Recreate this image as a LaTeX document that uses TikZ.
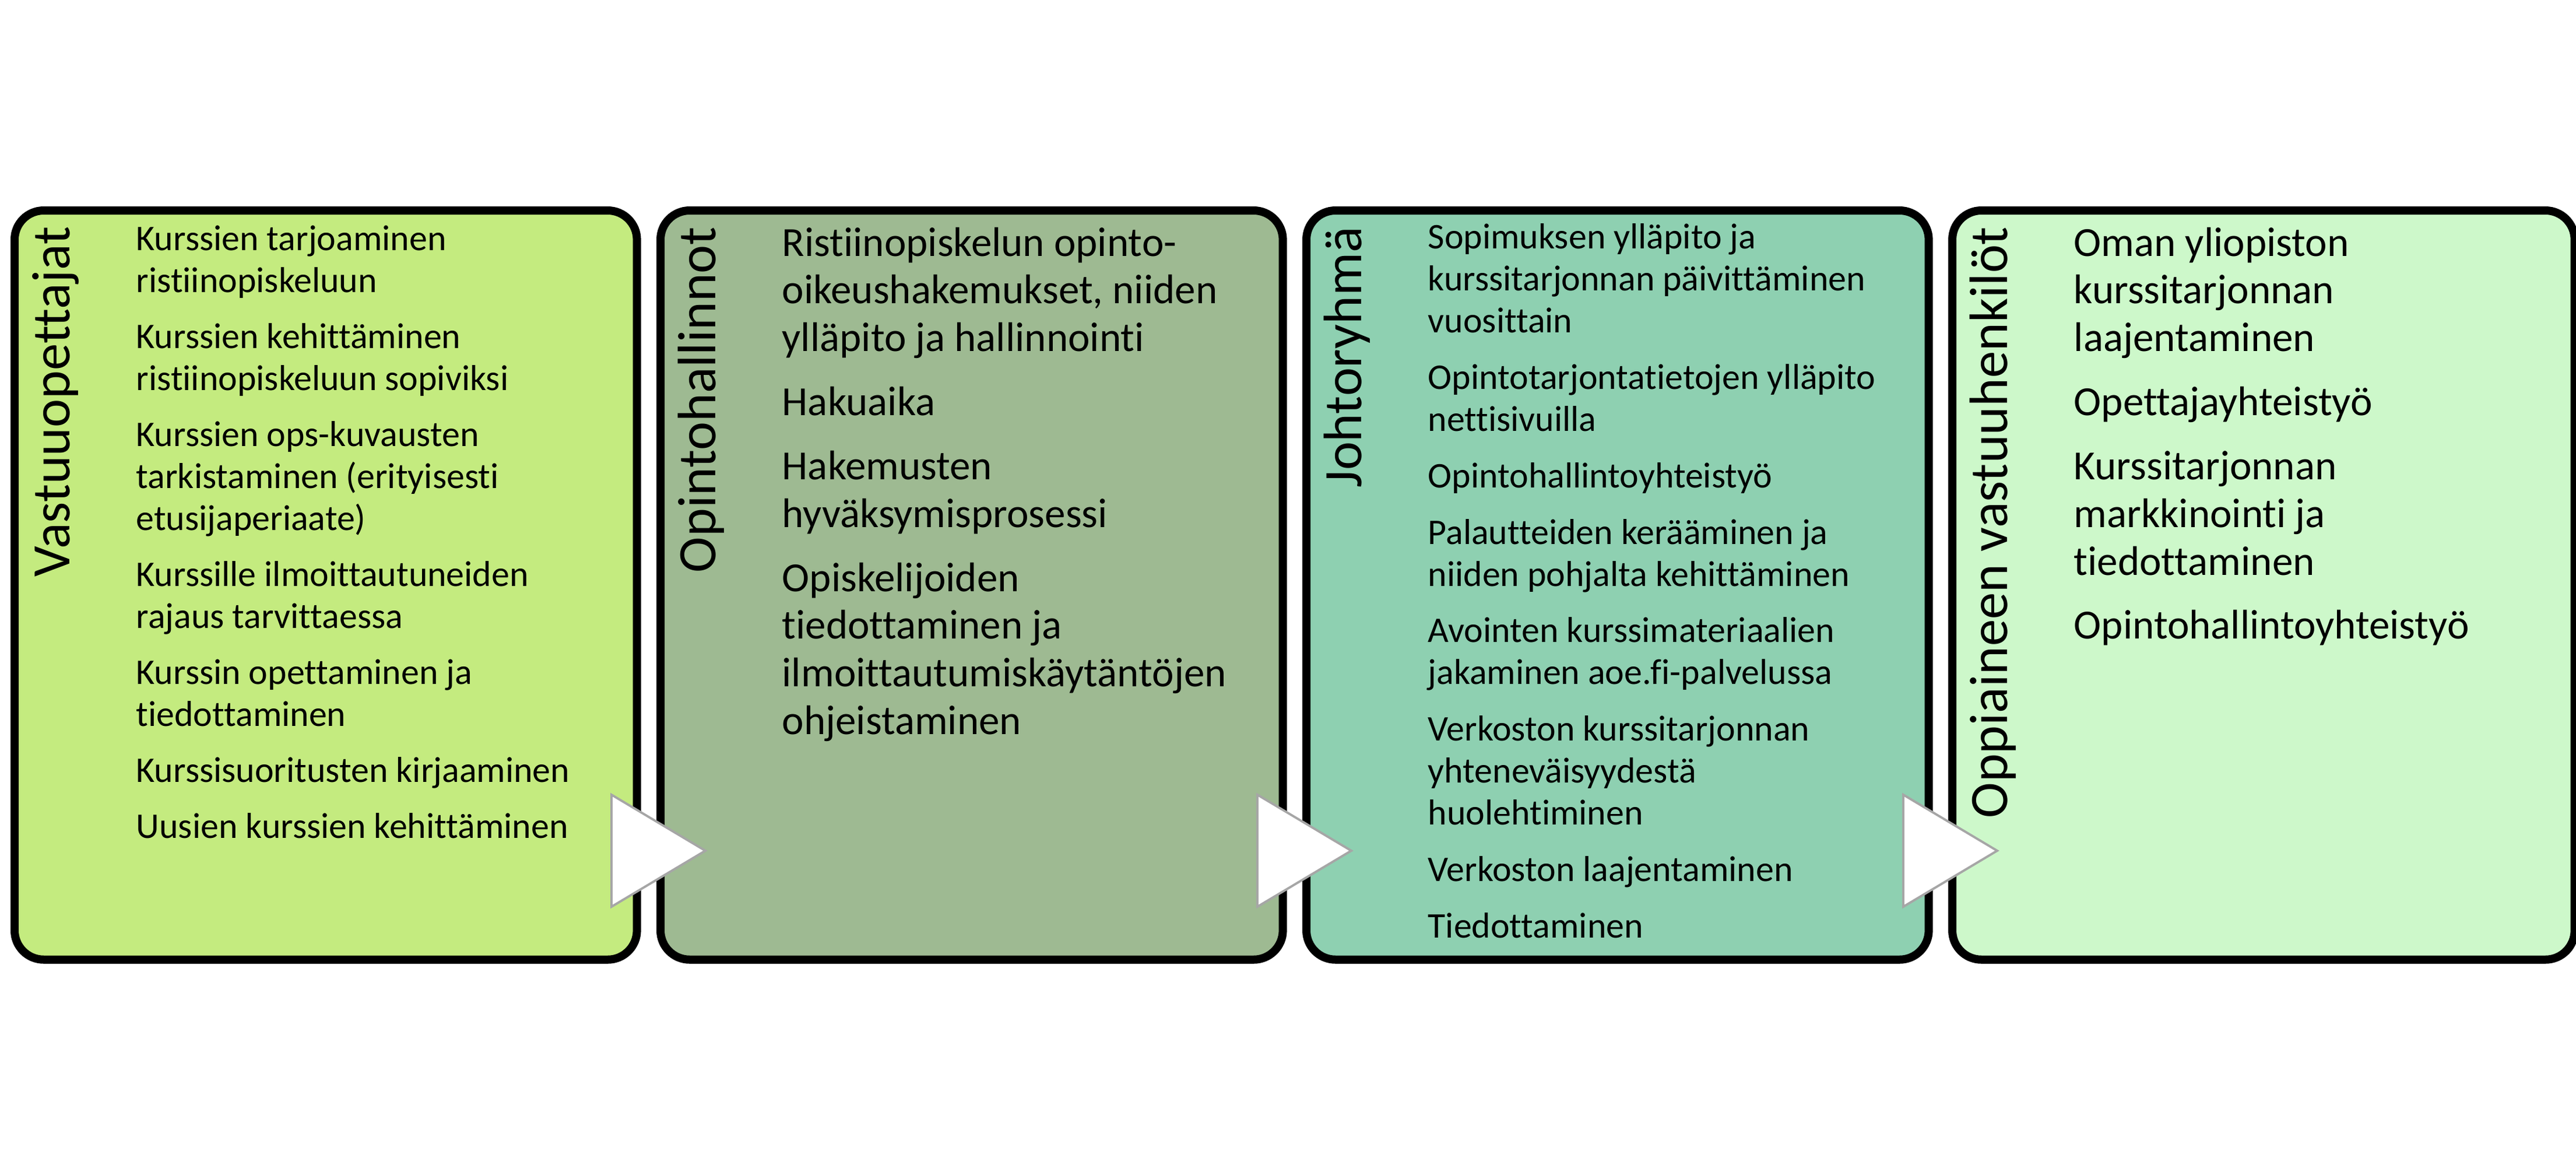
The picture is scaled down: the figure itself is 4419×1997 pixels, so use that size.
\documentclass[tikz,border=0pt]{standalone}
\usepackage{fontspec}
\setmainfont{Carlito}[Ligatures=NoCommon]

\definecolor{vaalea}{HTML}{C4EB7F}
\definecolor{harmaa}{HTML}{9EBA92}
\definecolor{turkoosi}{HTML}{8ED0B1}
\definecolor{minttu}{HTML}{CDF8CA}

\tikzset{
    laatikko/.style={draw=black, line width=0.14cm, rounded corners=0.5cm, minimum width=10.67cm, minimum height=12.84cm, anchor=north west, inner sep=0pt},
    otsikko/.style={rotate=90, anchor=base east, inner sep=0pt, font=\fontsize{26.4}{31}\selectfont},
    pieni/.style={anchor=north west, align=left, inner sep=0pt, font=\fontsize{17.6}{20.5}\selectfont, execute at begin node=\strut},
    iso/.style={anchor=north west, align=left, inner sep=0pt, font=\fontsize{20.2}{23.3}\selectfont, execute at begin node=\strut},
    kolmio/.style={draw=gray!70, fill=white, line width=1.1pt}
}

\begin{document}
\begin{tikzpicture}[x=0.01cm, y=-0.01cm]
            \useasboundingbox (0,0) rectangle (4419,1997);

            %neljä laatikkoa
            \node[laatikko, fill=vaalea] (b1) at (18,354) {};
            \node[laatikko, fill=harmaa] (b2) at (1126,354) {};
            \node[laatikko, fill=turkoosi] (b3) at (2234,354) {};
            \node[laatikko, fill=minttu] (b4) at (3342,354) {};

            %otsikot pystyyn
            \node[otsikko] (h1) at (119,388) {Vastuuopettajat};
            \node[otsikko] (h2) at (1227,388) {Opintohallinnot};
            \node[otsikko] (h3) at (2335,388) {Johtoryhmä};
            \node[otsikko] (h4) at (3443,388) {Oppiaineen vastuuhenkilöt};

            %tehtävät
            \node[pieni] (s1) at (233,386) {Kurssien tarjoaminen\\ristiinopiskeluun\\[6.8pt]
                Kurssien kehittäminen\\ristiinopiskeluun sopiviksi\\[6.8pt]
                Kurssien ops-kuvausten\\tarkistaminen (erityisesti\\etusijaperiaate)\\[6.8pt]
                Kurssille ilmoittautuneiden\\rajaus tarvittaessa\\[6.8pt]
                Kurssin opettaminen ja\\tiedottaminen\\[6.8pt]
                Kurssisuoritusten kirjaaminen\\[6.8pt]
                Uusien kurssien kehittäminen};
            \node[iso] (s2) at (1341,389) {Ristiinopiskelun opinto-\\oikeushakemukset, niiden\\ylläpito ja hallinnointi\\[7.9pt]
                Hakuaika\\[7.9pt]
                Hakemusten\\hyväksymisprosessi\\[7.9pt]
                Opiskelijoiden\\tiedottaminen ja\\ilmoittautumiskäytäntöjen\\ohjeistaminen};
            \node[pieni] (s3) at (2449,383) {Sopimuksen ylläpito ja\\kurssitarjonnan päivittäminen\\vuosittain\\[7.0pt]
                Opintotarjontatietojen ylläpito\\nettisivuilla\\[7.0pt]
                Opintohallintoyhteistyö\\[7.0pt]
                Palautteiden kerääminen ja\\niiden pohjalta kehittäminen\\[7.0pt]
                Avointen kurssimateriaalien\\jakaminen aoe.fi-palvelussa\\[7.0pt]
                Verkoston kurssitarjonnan\\yhteneväisyydestä\\huolehtiminen\\[7.0pt]
                Verkoston laajentaminen\\[7.0pt]
                Tiedottaminen};
            \node[iso] (s4) at (3557,389) {Oman yliopiston\\kurssitarjonnan\\laajentaminen\\[7.9pt]
                Opettajayhteistyö\\[7.9pt]
                Kurssitarjonnan\\markkinointi ja\\tiedottaminen\\[7.9pt]
                Opintohallintoyhteistyö};

            %nuolet laatikoiden välissä
            \draw[kolmio] (1049,1363) -- (1210,1459) -- (1049,1555) -- cycle;
            \draw[kolmio] (2157,1363) -- (2318,1459) -- (2157,1555) -- cycle;
            \draw[kolmio] (3265,1363) -- (3426,1459) -- (3265,1555) -- cycle;

\end{tikzpicture}
\end{document}
